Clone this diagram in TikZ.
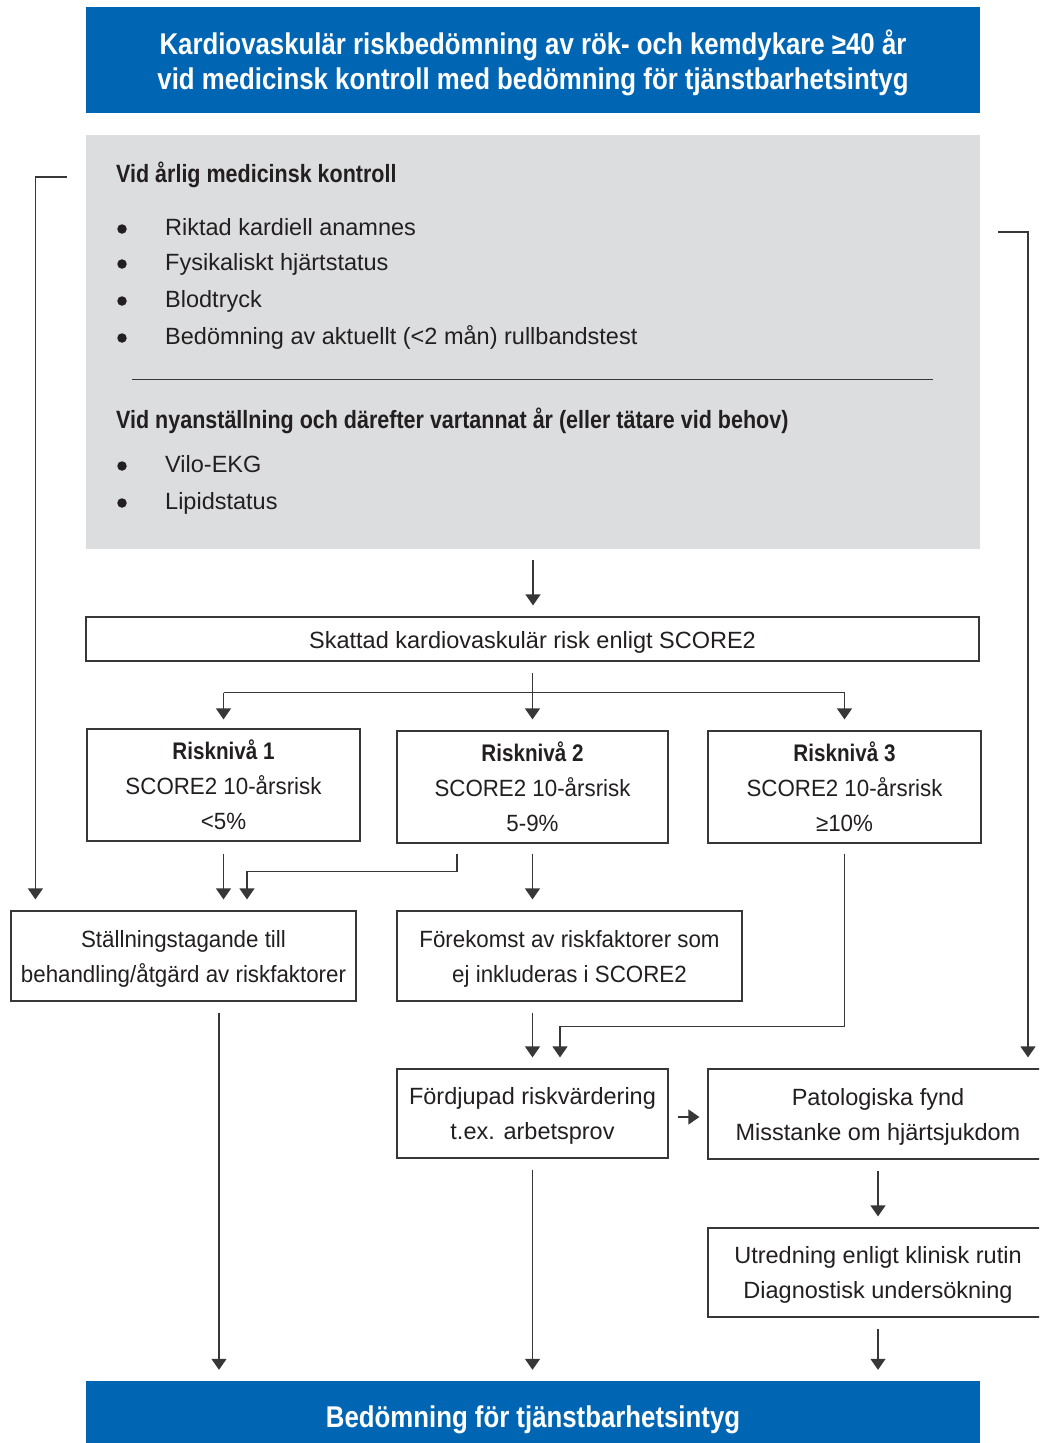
\documentclass[tikz,border=0pt]{standalone}
\usepackage{fontspec}
\setmainfont{Liberation Sans}
\newfontfamily\condfont[FakeStretch=0.86]{Liberation Sans}
\newfontfamily\narrowfont[FakeStretch=0.95]{Liberation Sans}
\usetikzlibrary{arrows.meta,calc}
\definecolor{hblue}{RGB}{0,102,179}
\definecolor{pgray}{RGB}{220,221,223}
\definecolor{txt}{RGB}{35,31,32}
\definecolor{lc}{RGB}{55,55,55}
\newcommand\myBody{\fontsize{23.5}{35}\selectfont}
\newcommand\myBodyN{\narrowfont\fontsize{23.5}{35}\selectfont}
\newcommand\myHead{\condfont\bfseries\fontsize{30}{35}\selectfont}
\newcommand\mySub{\condfont\bfseries\fontsize{25}{35}\selectfont}
\newcommand\myRisk{\condfont\bfseries\fontsize{24}{35}\selectfont}
\begin{document}
\begin{tikzpicture}[x=1pt,y=-1pt,
  box/.style={draw=lc, line width=1.2pt, fill=white, text=txt, align=center, inner sep=0pt, font=\myBody},
  twoline/.style={text height=55pt, text depth=3pt},
  bluebox/.style={fill=hblue, text=white, align=center, inner sep=0pt, font=\myHead},
  ptext/.style={anchor=base west, inner sep=0pt, text=txt, font=\myBody},
  phead/.style={anchor=base west, inner sep=0pt, text=txt, font=\mySub},
  pbul/.style={circle, fill=txt, inner sep=0pt, minimum size=9.5pt},
  ln/.style={draw=lc, line width=1.2pt},
  arr/.style={draw=lc, line width=1.2pt, -{Triangle[width=15pt,length=11pt]}}]
\useasboundingbox (0,0) rectangle (1039,1443);
\clip (0,0) rectangle (1039,1443);

% header
\node[bluebox, minimum width=894pt, minimum height=106pt, text height=60pt, text depth=2pt] (head) at (533,60)
  {Kardiovaskulär riskbedömning av rök- och kemdykare ≥40 år\\vid medicinsk kontroll med bedömning för tjänstbarhetsintyg};

% grey panel
\node[fill=pgray, minimum width=894pt, minimum height=414pt, inner sep=0pt] (panel) at (533,342) {};
\node[phead] (h1) at (116,182) {Vid årlig medicinsk kontroll};
\node[pbul] (b1) at (122,229) {};
\node[ptext] (t1) at (165,235) {Riktad kardiell anamnes};
\node[pbul] (b2) at (122,264) {};
\node[ptext] (t2) at (165,270) {Fysikaliskt hjärtstatus};
\node[pbul] (b3) at (122,301) {};
\node[ptext] (t3) at (165,307) {Blodtryck};
\node[pbul] (b4) at (122,338) {};
\node[ptext] (t4) at (165,344) {Bedömning av aktuellt (<2 mån) rullbandstest};
\draw[draw=lc, line width=1pt] (132,379) -- (933,379);
\node[phead] (h2) at (116,428) {Vid nyanställning och därefter vartannat år (eller tätare vid behov)};
\node[pbul] (b5) at (122,466) {};
\node[ptext] (t5) at (165,472) {Vilo-EKG};
\node[pbul] (b6) at (122,503) {};
\node[ptext] (t6) at (165,509) {Lipidstatus};

% boxes
\node[box, minimum width=893pt, minimum height=44pt, text height=20pt, text depth=2pt] (score) at (532.5,639)
  {Skattad kardiovaskulär risk enligt SCORE2};
\node[box, font=\myBodyN, minimum width=273pt, minimum height=112pt] (r1) at (223.5,785)
  {{\myRisk Risknivå 1}\\SCORE2 10-årsrisk\\<5\%};
\node[box, font=\myBodyN, minimum width=271pt, minimum height=112pt] (r2) at (532.5,787)
  {{\myRisk Risknivå 2}\\SCORE2 10-årsrisk\\5-9\%};
\node[box, font=\myBodyN, minimum width=273pt, minimum height=112pt] (r3) at (844.5,787)
  {{\myRisk Risknivå 3}\\SCORE2 10-årsrisk\\≥10\%};
\node[box, twoline, font=\myBodyN, minimum width=345pt, minimum height=90pt] (st) at (183.5,956)
  {Ställningstagande till\\behandling/åtgärd av riskfaktorer};
\node[box, twoline, font=\myBodyN, minimum width=345pt, minimum height=90pt] (fo) at (569.5,956)
  {Förekomst av riskfaktorer som\\ej inkluderas i SCORE2};
\node[box, twoline, minimum width=271pt, minimum height=89pt] (fd) at (532.5,1113.5)
  {Fördjupad riskvärdering\\t.ex. arbetsprov};
\node[box, twoline, minimum width=340pt, minimum height=90pt] (pa) at (878,1114)
  {Patologiska fynd\\Misstanke om hjärtsjukdom};
\node[box, twoline, minimum width=340pt, minimum height=89pt] (ut) at (878,1272.5)
  {Utredning enligt klinisk rutin\\Diagnostisk undersökning};
\node[bluebox, minimum width=894pt, minimum height=62pt, text height=30pt, text depth=0pt] (bot) at (533,1412)
  {Bedömning för tjänstbarhetsintyg};

% connectors
\draw[arr] ($(panel.south)+(0,11)$) -- ($(panel.south |- score.north)+(0,-11)$);
\draw[arr] ($(score.south)+(0,11)$) -- ($(r2.north)+(0,-11)$);
\coordinate (br) at ($(score.south)+(0,31)$);
\draw[ln] (br -| r1.north) -- (br -| r3.north);
\draw[arr] (br -| r1.north) -- ($(r1.north)+(0,-9)$);
\draw[arr] (br -| r3.north) -- ($(r3.north)+(0,-11)$);
\draw[arr] ($(r1.south)+(0,12)$) -- ($(r1.south |- st.north)+(0,-11)$);
\draw[arr] ($(r2.south)+(-75.5,10)$) -- ++(0,18) -| ($(st.north)+(63.5,-11)$);
\draw[arr] ($(r2.south)+(0,10)$) -- ($(r2.south |- fo.north)+(0,-11)$);
\draw[arr] ($(r3.south)+(0,10)$) -- ++(0,173) -| ($(fd.north)+(27.5,-11)$);
\draw[arr] ($(fd.north |- fo.south)+(0,11)$) -- ($(fd.north)+(0,-11)$);
\draw[arr] ($(panel.west)+(-19,-165)$) -| ($(st.north west)+(25,-11)$);
\draw[arr] ($(panel.east)+(18,-110)$) -| ($(pa.north)+(150,-11)$);
\draw[arr] ($(fd.east)+(9,3.5)$) -- ($(pa.west)+(-8,3)$);
\draw[arr] ($(pa.south)+(0,11)$) -- ($(ut.north)+(0,-11)$);
\draw[arr] ($(ut.south)+(0,11)$) -- ($(bot.north -| ut.south)+(0,-11)$);
\coordinate (s1) at ($(st.south)+(35.5,11)$);
\draw[arr] (s1) -- ($(s1 |- bot.north)+(0,-11)$);
\draw[arr] ($(fd.south)+(0,11)$) -- ($(bot.north -| fd.south)+(0,-11)$);
\end{tikzpicture}
\end{document}
